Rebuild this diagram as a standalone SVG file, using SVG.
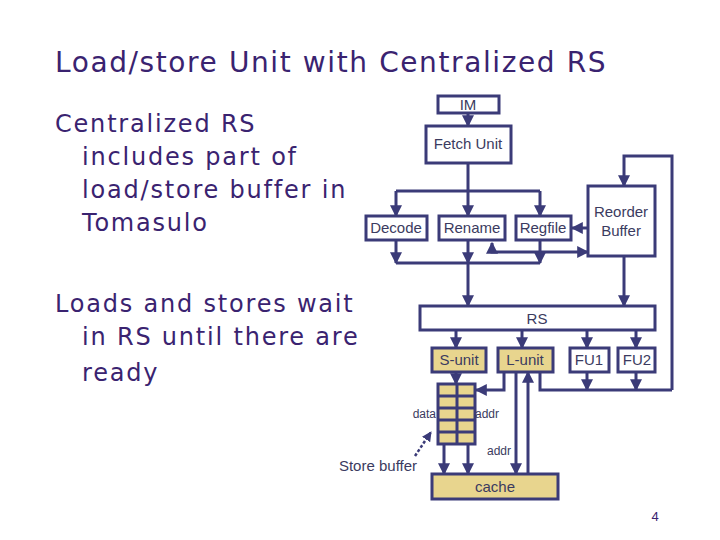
<svg xmlns="http://www.w3.org/2000/svg" width="720" height="540" viewBox="0 0 720 540">
<defs>
<marker id="ah" viewBox="0 0 10 10" refX="9" refY="5" markerWidth="4" markerHeight="4" orient="auto-start-reverse"><path d="M0,0 L10,5 L0,10 z" fill="#3b3b78"/></marker>
<style>
.b{fill:#fff;stroke:#3b3b78;stroke-width:3}
.t{fill:#e8d58e;stroke:#3b3b78;stroke-width:3}
.l{fill:none;stroke:#3b3b78;stroke-width:3}
.a{fill:none;stroke:#3b3b78;stroke-width:3;marker-end:url(#ah)}
.n{font-family:"Liberation Sans",Arial,sans-serif;font-size:15px;fill:#3b3b60;text-anchor:middle}
.s{font-family:"Liberation Sans",Arial,sans-serif;font-size:12px;fill:#3b3b60}
.h{font-family:"DejaVu Sans",sans-serif;fill:#3a2370}
</style>
</defs>
<rect width="720" height="540" fill="#fff"/>
<text class="h" x="55" y="72" font-size="28" letter-spacing="1.6">Load/store Unit with Centralized RS</text>
<g class="h" font-size="24" letter-spacing="1.8">
<text x="55" y="132">Centralized RS</text>
<text x="82" y="165">includes part of</text>
<text x="82" y="198">load/store buffer in</text>
<text x="82" y="231">Tomasulo</text>
<text x="55" y="312">Loads and stores wait</text>
<text x="82" y="345">in RS until there are</text>
<text x="82" y="381">ready</text>
</g>
<g id="connectors">
<path class="a" d="M468,113 V126"/>
<path class="l" d="M468,163 V191 M396,191 H540"/>
<path class="a" d="M396,191 V216"/><path class="a" d="M468,191 V216"/><path class="a" d="M540,191 V216"/>
<path class="a" d="M588,228 H572"/>
<path class="a" style="marker-start:url(#ah)" d="M492,243 V252 H588"/>
<path class="a" d="M396,240 V263"/><path class="a" d="M468,240 V263"/><path class="a" d="M540,240 V263"/>
<path class="l" d="M396,263 H540"/>
<path class="a" d="M468,263 V306"/>
<path class="a" d="M624,256 V306"/>
<path class="a" d="M672,390 V156 H624 V186"/>
<path class="a" d="M456,330 V348"/><path class="a" d="M522,330 V348"/><path class="a" d="M587,330 V348"/><path class="a" d="M636,330 V348"/>
<path class="a" d="M456,372 V384"/>
<path class="a" d="M504,372 V390 H476"/>
<path class="l" d="M540,372 V390 H672"/>
<path class="a" d="M587,372 V390"/><path class="a" d="M636,372 V390"/>
<path class="a" d="M444,444 V474"/><path class="a" d="M468,444 V474"/>
<path class="a" d="M516,372 V474"/>
<path class="a" d="M528,474 V372"/>
<path class="a" d="M415,456 L431,432" stroke-dasharray="3,2" style="stroke-width:2.5"/>
</g>
<g id="im"><rect class="b" x="438" y="96" width="61" height="17"/><text class="n" x="468" y="110" font-size="14">IM</text></g>
<g id="fetch"><rect class="b" x="426" y="126" width="85" height="37"/><text class="n" x="468" y="149">Fetch Unit</text></g>
<g id="decode"><rect class="b" x="366" y="216" width="61" height="24"/><text class="n" x="396" y="233">Decode</text></g>
<g id="rename"><rect class="b" x="439" y="216" width="66" height="24"/><text class="n" x="472" y="233">Rename</text></g>
<g id="regfile"><rect class="b" x="516" y="216" width="55" height="24"/><text class="n" x="543" y="233">Regfile</text></g>
<g id="rob"><rect class="b" x="588" y="186" width="67" height="70"/><text class="n" x="621" y="217">Reorder</text><text class="n" x="621" y="236">Buffer</text></g>
<g id="rs"><rect class="b" x="420" y="306" width="235" height="24"/><text class="n" x="537" y="324" font-size="17">RS</text></g>
<g id="sunit"><rect class="t" x="432" y="348" width="54" height="24"/><text class="n" x="459" y="365">S-unit</text></g>
<g id="lunit"><rect class="t" x="498" y="348" width="55" height="24"/><text class="n" x="525" y="365">L-unit</text></g>
<g id="fu1"><rect class="b" x="570" y="348" width="39" height="24"/><text class="n" x="589" y="365">FU1</text></g>
<g id="fu2"><rect class="b" x="618" y="348" width="37" height="24"/><text class="n" x="637" y="365">FU2</text></g>
<g id="storebuffer">
<rect class="t" x="438" y="384" width="37" height="60"/>
<path class="l" d="M457,384 V444 M438,396 H475 M438,408 H475 M438,420 H475 M438,432 H475"/>
<text class="s" x="436" y="418" text-anchor="end">data</text>
<text class="s" x="475" y="418">addr</text>
<text class="s" x="487" y="455">addr</text>
<text class="n" x="378" y="471" font-size="16">Store buffer</text>
</g>
<g id="cache"><rect class="t" x="432" y="474" width="126" height="25"/><text class="n" x="495" y="492">cache</text></g>
<text x="655" y="521" font-family="Liberation Sans,sans-serif" font-size="13" fill="#3a2370" text-anchor="middle">4</text>
</svg>
